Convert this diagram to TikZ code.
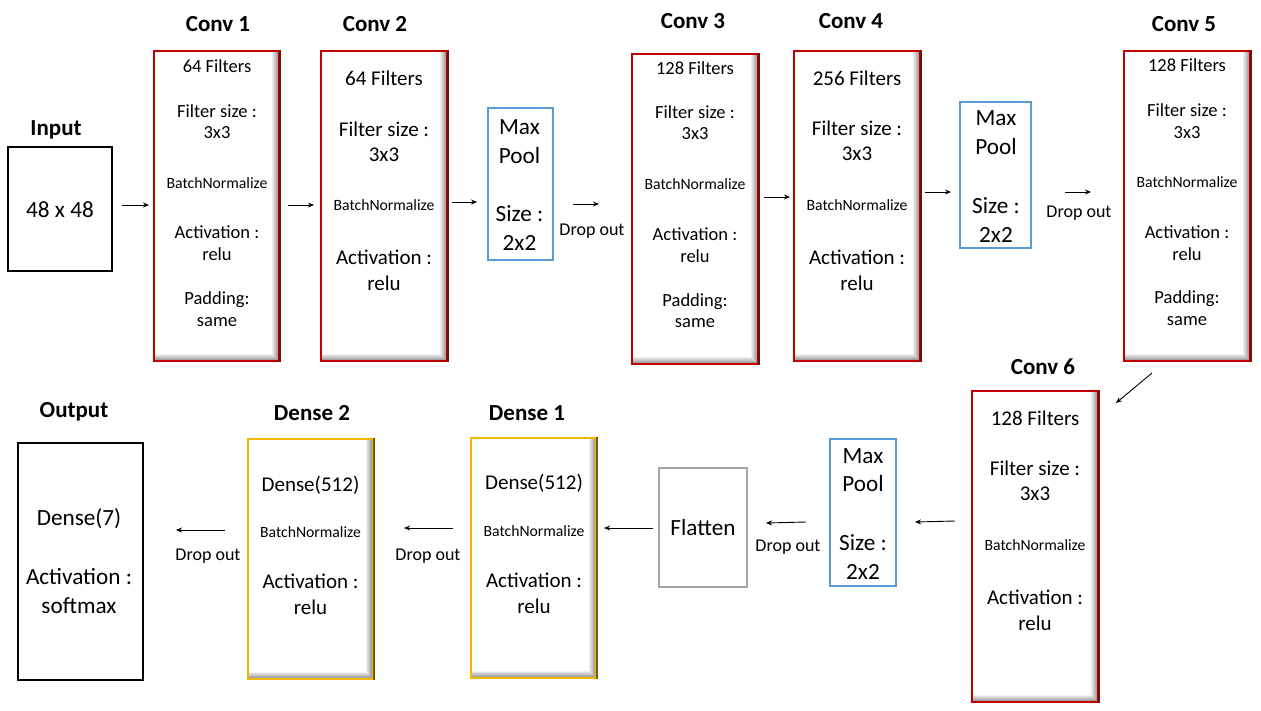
\documentclass[tikz,border=0pt]{standalone}
\usepackage{fontspec}
\setmainfont{Carlito}
\usetikzlibrary{arrows.meta}
\definecolor{convred}{HTML}{C00000}
\definecolor{convdark}{HTML}{6B1010}
\definecolor{densegold}{HTML}{F2B800}
\definecolor{densedark}{HTML}{6B5A10}
\definecolor{poolblue}{HTML}{5B9BD5}
\definecolor{flatgray}{HTML}{A5A5A5}
\tikzset{
  bevel/.style={fill=white, line width=1.6pt, inner sep=0pt,
    path picture={
      \foreach \i in {1,...,7}{
        \pgfmathsetmacro\cc{(8-\i)*6}
        \draw[black!\cc, line width=1.1pt]
          ([xshift={(0.5-\i)*1pt}]path picture bounding box.north east) --
          ([xshift={(0.5-\i)*1pt}, yshift={(\i-0.5)*1pt}]path picture bounding box.south east) --
          ([yshift={(\i-0.5)*1pt}]path picture bounding box.south west);
      }
    }},
  convbox/.style={bevel, draw=convred},
  densebox/.style={bevel, draw=densegold},
  plainbox/.style={draw=black, line width=2.2pt, fill=white, inner sep=0pt},
  poolbox/.style={draw=poolblue, line width=2.2pt, fill=white, inner sep=0pt},
  flatbox/.style={draw=flatgray, line width=2.2pt, fill=white, inner sep=0pt},
  ttl/.style={font=\fontsize{23}{26}\selectfont\bfseries, inner sep=0pt},
  sm/.style={font=\fontsize{18.5}{22}\selectfont, inner sep=0pt},
  md/.style={font=\fontsize{21}{24}\selectfont, inner sep=0pt},
  lg/.style={font=\fontsize{23.2}{26}\selectfont, inner sep=0pt},
  bn/.style={font=\fontsize{15.7}{18}\selectfont, inner sep=0pt},
  dro/.style={font=\fontsize{18}{21}\selectfont, inner sep=0pt},
  arr/.style={-{Stealth[length=6pt,width=5pt]}, line width=0.9pt},
}
\begin{document}
\begin{tikzpicture}[x=1pt,y=-1pt]
\useasboundingbox (0,0) rectangle (1261,710);
% ---- boxes ----
\node[plainbox, minimum width=104pt, minimum height=124pt] (in) at (60,209) {};
\node[convbox, minimum width=125pt, minimum height=310pt] (c1) at (216.5,206) {};
\node[convbox, minimum width=126pt, minimum height=310pt] (c2) at (384,206) {};
\node[poolbox, minimum width=65pt, minimum height=152pt] (p1) at (520.5,184) {};
\node[convbox, minimum width=126pt, minimum height=310pt] (c3) at (695,209) {};
\node[convbox, minimum width=126pt, minimum height=310pt] (c4) at (857,206) {};
\node[poolbox, minimum width=71pt, minimum height=146pt] (p2) at (995.5,175) {};
\node[convbox, minimum width=126pt, minimum height=310pt] (c5) at (1187,206) {};
\node[convbox, minimum width=126pt, minimum height=311pt] (c6) at (1035,546.5) {};
\node[poolbox, minimum width=66pt, minimum height=147pt] (p3) at (863,512.5) {};
\node[flatbox, minimum width=88pt, minimum height=119pt] (fl) at (703,527.5) {};
\node[densebox, minimum width=125pt, minimum height=240pt] (d1) at (533.5,558) {};
\node[densebox, minimum width=125pt, minimum height=240pt] (d2) at (310.5,559) {};
\node[plainbox, minimum width=125pt, minimum height=237pt] (out) at (80.5,561.5) {};
\foreach \n in {c1,c2,c3,c4,c5,c6}
  \draw[convdark, line width=1.6pt] (\n.north east) -- (\n.south east);
\foreach \n in {d1,d2}
  \draw[densedark, line width=1.6pt] (\n.north east) -- (\n.south east);
% ---- titles ----
\node[ttl] (tin) at (56,130) {Input};
\node[ttl] (tc1) at (218,24) {Conv 1};
\node[ttl] (tc2) at (375,24) {Conv 2};
\node[ttl] (tc3) at (693,21) {Conv 3};
\node[ttl] (tc4) at (851,21) {Conv 4};
\node[ttl] (tc5) at (1184,24) {Conv 5};
\node[ttl] (tc6) at (1043,367) {Conv 6};
\node[ttl] (td1) at (527,413) {Dense 1};
\node[ttl] (td2) at (312,413) {Dense 2};
\node[ttl] (tout) at (74,412) {Output};
% ---- box texts ----
\node[lg] (in-1) at (60,210) {48 x 48};
\foreach \yy/\st/\tx [count=\i] in {66/sm/64 Filters, 111/sm/Filter size :, 133/sm/3x3, 183/bn/BatchNormalize, 232/sm/Activation :, 254/sm/relu, 300/sm/Padding:, 322/sm/same}
  \node[\st] (c1-\i) at (217,\yy) {\tx};
\foreach \yy/\st/\tx [count=\i] in {78/md/64 Filters, 129/md/Filter size :, 155/md/3x3, 205/bn/BatchNormalize, 257/md/Activation :, 283/md/relu}
  \node[\st] (c2-\i) at (384,\yy) {\tx};
\foreach \yy/\tx [count=\i] in {127/Max, 156/Pool, 214/Size :, 243/2x2}
  \node[lg] (p1-\i) at (519.5,\yy) {\tx};
\foreach \yy/\st/\tx [count=\i] in {68/sm/128 Filters, 112/sm/Filter size :, 134/sm/3x3, 184/bn/BatchNormalize, 234/sm/Activation :, 256/sm/relu, 302/sm/Padding:, 323/sm/same}
  \node[\st] (c3-\i) at (695,\yy) {\tx};
\foreach \yy/\st/\tx [count=\i] in {78/md/256 Filters, 128/md/Filter size :, 154/md/3x3, 205/bn/BatchNormalize, 257/md/Activation :, 283/md/relu}
  \node[\st] (c4-\i) at (857,\yy) {\tx};
\foreach \yy/\tx [count=\i] in {118/Max, 147/Pool, 206/Size :, 235/2x2}
  \node[lg] (p2-\i) at (996,\yy) {\tx};
\foreach \yy/\st/\tx [count=\i] in {65/sm/128 Filters, 110/sm/Filter size :, 133/sm/3x3, 182/bn/BatchNormalize, 232/sm/Activation :, 254/sm/relu, 299/sm/Padding:, 321/sm/same}
  \node[\st] (c5-\i) at (1187,\yy) {\tx};
\foreach \yy/\st/\tx [count=\i] in {418/md/128 Filters, 468/md/Filter size :, 494/md/3x3, 545/bn/BatchNormalize, 597/md/Activation :, 623/md/relu}
  \node[\st] (c6-\i) at (1035,\yy) {\tx};
\foreach \yy/\tx [count=\i] in {456/Max, 484/Pool, 543/Size :, 572/2x2}
  \node[lg] (p3-\i) at (863,\yy) {\tx};
\node[lg] (fl-1) at (703,528) {Flatten};
\foreach \yy/\st/\tx [count=\i] in {483/md/Dense(512), 531/bn/BatchNormalize, 580/md/Activation :, 606/md/relu}
  \node[\st] (d1-\i) at (534,\yy) {\tx};
\foreach \yy/\st/\tx [count=\i] in {485/md/Dense(512), 532/bn/BatchNormalize, 581/md/Activation :, 607/md/relu}
  \node[\st] (d2-\i) at (310.5,\yy) {\tx};
\foreach \yy/\tx [count=\i] in {519/Dense(7), 577/Activation :, 606/softmax}
  \node[lg] (out-\i) at (79,\yy) {\tx};
% ---- drop out labels ----
\node[dro] (do1) at (592,231) {Drop out};
\node[dro] (do2) at (1079,213) {Drop out};
\node[dro] (do3) at (788,547) {Drop out};
\node[dro] (do4) at (428,556) {Drop out};
\node[dro] (do5) at (208,556) {Drop out};
% ---- arrow end points ----
\coordinate (a1s) at (122,205);  \coordinate (a1e) at (149,205);
\coordinate (a2s) at (288,205);  \coordinate (a2e) at (314,205);
\coordinate (a3s) at (452,202);  \coordinate (a3e) at (477,202);
\coordinate (a4s) at (573,204);  \coordinate (a4e) at (599,204);
\coordinate (a5s) at (764,197);  \coordinate (a5e) at (790,197);
\coordinate (a6s) at (925,192);  \coordinate (a6e) at (951,192);
\coordinate (a7s) at (1065,192); \coordinate (a7e) at (1091,192);
\coordinate (a8s) at (1152,373); \coordinate (a8e) at (1116,403);
\coordinate (a9s) at (955,521);  \coordinate (a9e) at (915,522);
\coordinate (a10s) at (806,522); \coordinate (a10e) at (766,523);
\coordinate (a11s) at (653,528); \coordinate (a11e) at (604,528);
\coordinate (a12s) at (453,528); \coordinate (a12e) at (404,528);
\coordinate (a13s) at (225,530); \coordinate (a13e) at (176,530);
\foreach \k in {1,...,13}
  \draw[arr] (a\k s) -- (a\k e);
\end{tikzpicture}
\end{document}
